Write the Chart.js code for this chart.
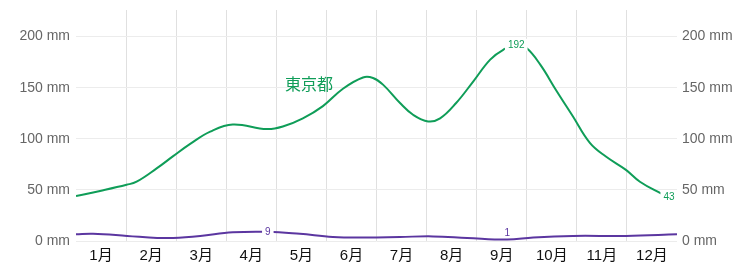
<!DOCTYPE html>
<html>
<head>
<meta charset="utf-8">
<script src="https://cdn.jsdelivr.net/npm/chart.js@4"></script>
<style>
  html, body { margin: 0; padding: 0; background: #fff; }
  #wrap { width: 753px; height: 267px; }
</style>
</head>
<body>
<div id="wrap"><canvas id="grafico"></canvas></div>
<script>
// months, x = position in months (0..12)
const meses = ["1月", "2月", "3月", "4月", "5月", "6月", "7月", "8月", "9月", "10月", "11月", "12月"];

const tokyoX = [0, 0.48, 1.01, 1.21, 1.61, 1.94, 2.28, 2.68, 3.13, 3.81, 4.13, 4.53, 4.93, 5.33, 5.73, 5.93, 6.13, 6.47, 6.73, 7.03, 7.27, 7.59, 7.93, 8.27, 8.53, 8.79, 8.99, 9.27, 9.58, 9.92, 10.26, 10.58, 10.98, 11.26, 11.66, 11.84];
const tokyoY = [44, 49, 55, 58, 71, 83, 95, 107, 114, 109.5, 112, 120, 132, 149, 160, 159.5, 153, 135, 123.5, 117, 120, 135, 156, 177.5, 187, 192, 189, 172.5, 148, 122, 96, 82.6, 69.6, 58, 47, 43];

const otroX = [0, 0.34, 1.02, 1.62, 1.94, 2.48, 3.13, 3.83, 4.47, 5.13, 5.81, 6.47, 7.13, 7.81, 8.61, 9.13, 9.92, 10.98, 12];
const otroY = [6.5, 7, 5, 3, 3, 5, 8.5, 9, 7, 4, 3.5, 4, 4.5, 3, 1.4, 3.5, 5, 5, 6.5];

// etiquetas de valores: [serie, indice, desplazamiento y]
const etiquetas = [[0, 25, 0], [0, 35, 0], [1, 7, 0], [1, 14, -6]];

const verde = "#0f9d58";
const morado = "#5b36a0";

const pares = (xs, ys) => xs.map((x, i) => ({ x: x, y: ys[i] }));

const fuente = "'Liberation Sans', 'Noto Sans CJK JP', sans-serif";

// 👉 etiquetas sobre las líneas y el nombre de la serie
const textos = {
  id: "textos",
  afterDatasetsDraw(chart) {
    const ctx = chart.ctx;
    ctx.save();
    ctx.font = "10px " + fuente;
    ctx.textAlign = "center";
    ctx.textBaseline = "middle";
    etiquetas.forEach(([s, i, dy]) => {
      const p = chart.getDatasetMeta(s).data[i];
      const txt = String(Math.round(chart.data.datasets[s].data[i].y));
      const w = ctx.measureText(txt).width + 6;
      ctx.fillStyle = "#fff";
      if (dy === 0) ctx.fillRect(p.x - w / 2, p.y - 6, w, 12);
      ctx.fillStyle = chart.data.datasets[s].borderColor;
      ctx.fillText(txt, p.x, p.y + dy);
    });
    const xs = chart.scales.x, ys = chart.scales.y;
    ctx.font = "16px " + fuente;
    ctx.fillStyle = verde;
    ctx.fillText("東京都", xs.getPixelForValue(4.65), ys.getPixelForValue(152));
    ctx.restore();
  }
};

const ejeY = (pos, pad) => ({
  position: pos,
  min: 0,
  max: 226,
  border: { display: false },
  grid: { color: "#ececec", drawTicks: false, drawOnChartArea: pos === "left" },
  ticks: {
    stepSize: 50,
    padding: pad,
    color: "#666",
    font: { size: 14, family: fuente },
    callback: v => v + " mm"
  },
  afterBuildTicks: s => { s.ticks = s.ticks.filter(t => t.value % 50 === 0); },
  afterFit: s => { s.width = 76; s.paddingTop = 0; s.paddingBottom = 0; }
});

new Chart(document.getElementById("grafico"), {
  type: "line",
  data: {
    datasets: [
      { data: pares(tokyoX, tokyoY), borderColor: verde, borderWidth: 2, pointRadius: 0, tension: 0.4, fill: false },
      { data: pares(otroX, otroY), borderColor: morado, borderWidth: 2, pointRadius: 0, tension: 0.4, fill: false }
    ]
  },
  options: {
    responsive: true,
    maintainAspectRatio: false,
    animation: false,
    layout: { padding: { top: 10, left: 0, right: 0, bottom: 0 } },
    plugins: { legend: { display: false }, tooltip: { enabled: false } },
    scales: {
      x: {
        type: "linear",
        min: 0,
        max: 12,
        border: { display: false },
        grid: {
          drawTicks: false,
          color: c => (c.tick && Number.isInteger(c.tick.value) && c.tick.value > 0 && c.tick.value < 12) ? "#e0e0e0" : "rgba(0,0,0,0)"
        },
        ticks: {
          stepSize: 0.5,
          autoSkip: false,
          maxRotation: 0,
          padding: 6,
          color: "#111",
          font: { size: 15, family: fuente },
          callback: v => Number.isInteger(v) ? "" : meses[Math.floor(v)]
        },
        afterFit: s => { s.height = 26; }
      },
      y: ejeY("left", 6),
      y2: ejeY("right", 5)
    }
  },
  plugins: [textos]
});
</script>
</body>
</html>
